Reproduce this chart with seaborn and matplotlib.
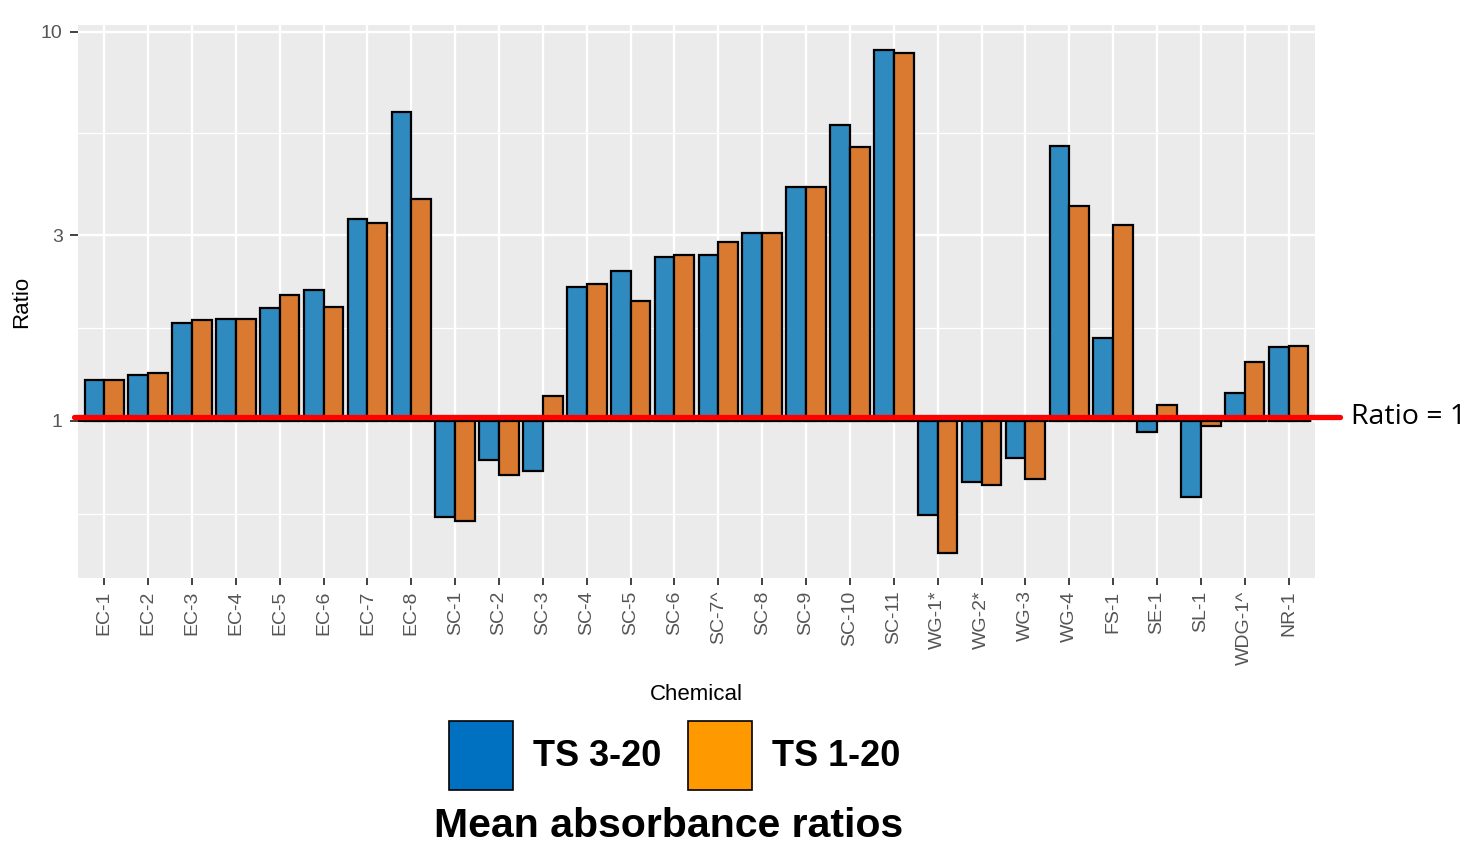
import numpy as np
import pandas as pd
import matplotlib.pyplot as plt
import seaborn as sns
from matplotlib.patches import Patch

# Data (mean absorbance ratios, log scale)
chemicals = ["EC-1", "EC-2", "EC-3", "EC-4", "EC-5", "EC-6", "EC-7", "EC-8",
             "SC-1", "SC-2", "SC-3", "SC-4", "SC-5", "SC-6", "SC-7^", "SC-8",
             "SC-9", "SC-10", "SC-11", "WG-1*", "WG-2*", "WG-3", "WG-4",
             "FS-1", "SE-1", "SL-1", "WDG-1^", "NR-1"]
ts_3_20 = [1.27, 1.31, 1.78, 1.83, 1.95, 2.17, 3.30, 6.22,
           0.566, 0.792, 0.745, 2.21, 2.42, 2.63, 2.67, 3.03,
           4.00, 5.77, 8.97, 0.572, 0.696, 0.801, 5.07,
           1.63, 0.934, 0.636, 1.18, 1.55]
ts_1_20 = [1.27, 1.33, 1.82, 1.83, 2.10, 1.96, 3.23, 3.71,
           0.553, 0.724, 1.16, 2.24, 2.03, 2.67, 2.88, 3.03,
           4.00, 5.04, 8.83, 0.458, 0.684, 0.709, 3.57,
           3.18, 1.10, 0.967, 1.42, 1.56]
series_names = ["TS 3-20", "TS 1-20"]
y_ticks = [1, 3, 10]

bar_colors = {"TS 3-20": "#2F8AC0", "TS 1-20": "#DA7A30"}
legend_colors = {"TS 3-20": "#0070C0", "TS 1-20": "#FF9900"}

df = pd.DataFrame({
    "Chemical": chemicals * 2,
    "Series": [series_names[0]] * len(chemicals) + [series_names[1]] * len(chemicals),
    "Ratio": ts_3_20 + ts_1_20,
})
df["log_ratio"] = np.log10(df["Ratio"])

sns.set_theme(style="darkgrid", rc={"axes.facecolor": "#EBEBEB", "grid.color": "white",
                                    "text.color": "black"})
plt.rcParams["font.family"] = ["Liberation Sans", "DejaVu Sans"]

fig = plt.figure(figsize=(14.68, 8.46), dpi=100)
ax = fig.add_axes([0.0531, 0.3168, 0.8426, 0.6536])

sns.barplot(data=df, x="Chemical", y="log_ratio", hue="Series", order=chemicals,
            hue_order=series_names, palette=bar_colors, width=0.9, gap=0,
            saturation=1, errorbar=None, edgecolor="black", linewidth=1.6,
            legend=False, ax=ax)

# log10 axis: ticks at 1, 3, 10 and ggplot-style minor grid at midpoints
major = np.log10(y_ticks)
minor = [major[0] - (major[1] - major[0]) / 2,
         (major[0] + major[1]) / 2, (major[1] + major[2]) / 2]
ax.set_yticks(major)
ax.set_yticklabels([str(t) for t in y_ticks])
ax.set_yticks(minor, minor=True)
ax.set_ylim(-0.404, 1.017)
ax.set_xlim(-0.6, len(chemicals) - 0.4)
ax.grid(which="major", color="white", linewidth=1.7)
ax.grid(which="minor", axis="y", color="white", linewidth=0.9)
for s in ax.spines.values():
    s.set_visible(False)

ax.tick_params(axis="x", rotation=90, labelsize=14, labelcolor="#555555",
               color="#333333", length=5, width=1.3, bottom=True, pad=4)
ax.tick_params(axis="y", labelsize=14, labelcolor="#555555",
               color="#333333", length=6, width=1.3, left=True, pad=5)
ax.tick_params(axis="y", which="minor", length=0)
ax.set_xlabel("Chemical", fontsize=16, color="black", labelpad=14)
ax.set_ylabel("Ratio", fontsize=16, color="black", labelpad=6)

# reference line at ratio = 1
ax.axhline(0, color="black", linestyle=(0, (4, 3)), linewidth=1.5, zorder=3)
ax.axhline(0.01, xmin=-0.003, xmax=1.02, color="#FF0000", linewidth=3.8,
           zorder=4, clip_on=False)
ax.annotate("Ratio = 1", xy=(1.029, 0.01), xycoords=("axes fraction", "data"),
            fontsize=20.5, va="center", ha="left", color="black",
            family=["Open Sans", "DejaVu Sans"], annotation_clip=False)

handles = [Patch(facecolor=legend_colors[n], edgecolor="black", linewidth=1.2, label=n)
           for n in series_names]
fig.legend(handles=handles, loc="center", bbox_to_anchor=(0.4595, 0.107), ncol=2,
           frameon=False, prop={"weight": "bold", "size": 26},
           handlelength=1.78, handleheight=2.6, handletextpad=0.55, columnspacing=0.72)
fig.text(0.4557, 0.0235, "Mean absorbance ratios", ha="center", va="center",
         fontsize=29.5, fontweight="bold", color="black")

fig.savefig("out.png", dpi=100)
